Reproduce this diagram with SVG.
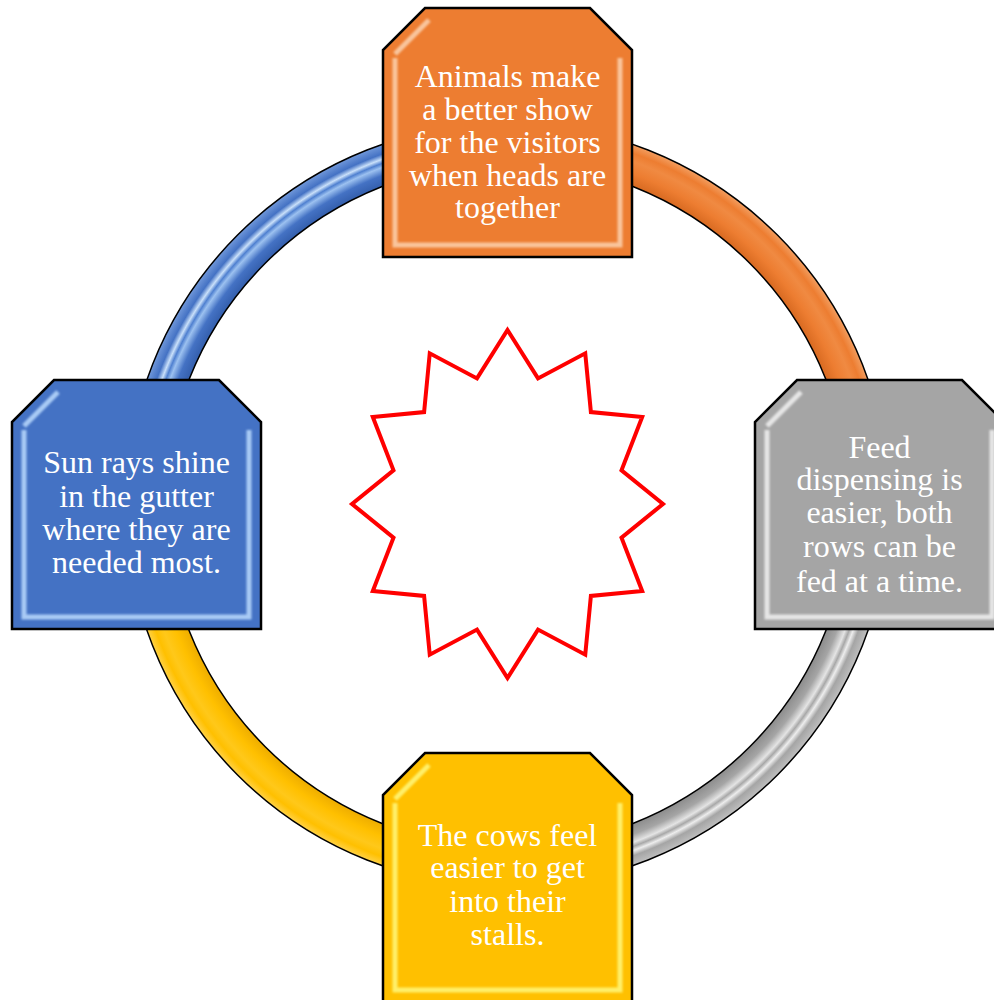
<svg xmlns="http://www.w3.org/2000/svg" width="994" height="1000" viewBox="0 0 994 1000">
<style>
.ol{fill:none;stroke:#000;stroke-width:41}
.ring{fill:none;stroke-width:38}
.node{stroke:#000;stroke-width:2.5}
.bev{fill:none;stroke-width:5;filter:url(#soft)}
.t{font-family:"Liberation Serif","Times New Roman",serif;font-size:32px;fill:#fff;text-anchor:middle}
</style>
<defs>
<filter id="soft" x="-10%" y="-10%" width="120%" height="120%"><feGaussianBlur stdDeviation="1.3"/></filter>
<path id="shape" d="M42,0 H207 L249,42 V249 H0 V42 Z"/>
<path id="inner" d="M12,46 L46,12 M237,50 V237 H12 V50"/>
<radialGradient id="gB" gradientUnits="userSpaceOnUse" cx="507.5" cy="505" r="381">
<stop offset="0.90" stop-color="#3560AE"/><stop offset="0.925" stop-color="#4472C4"/><stop offset="0.945" stop-color="#9CC1F0"/><stop offset="0.955" stop-color="#4F80D0"/><stop offset="0.965" stop-color="#C9E0FA"/><stop offset="0.978" stop-color="#4472C4"/><stop offset="1" stop-color="#6D95D8"/>
</radialGradient>
<radialGradient id="gO" gradientUnits="userSpaceOnUse" cx="507.5" cy="505" r="381">
<stop offset="0.90" stop-color="#D96B22"/><stop offset="0.93" stop-color="#ED7D31"/><stop offset="0.96" stop-color="#F08A42"/><stop offset="0.98" stop-color="#ED7D31"/><stop offset="1" stop-color="#F29B5C"/>
</radialGradient>
<radialGradient id="gG" gradientUnits="userSpaceOnUse" cx="507.5" cy="505" r="381">
<stop offset="0.90" stop-color="#8E8E8E"/><stop offset="0.925" stop-color="#A5A5A5"/><stop offset="0.945" stop-color="#E4E4E4"/><stop offset="0.955" stop-color="#A8A8A8"/><stop offset="0.965" stop-color="#EDEDED"/><stop offset="0.978" stop-color="#A5A5A5"/><stop offset="1" stop-color="#BDBDBD"/>
</radialGradient>
<radialGradient id="gY" gradientUnits="userSpaceOnUse" cx="507.5" cy="505" r="381">
<stop offset="0.90" stop-color="#EFAE00"/><stop offset="0.93" stop-color="#FFC000"/><stop offset="0.96" stop-color="#FFC81A"/><stop offset="0.98" stop-color="#FFC000"/><stop offset="1" stop-color="#FFD040"/>
</radialGradient>
</defs>
<g id="connectors">
<path class="ol" d="M507.5,143 A362,362 0 0 1 869.5,505 A362,362 0 0 1 507.5,867 A362,362 0 0 1 145.5,505 A362,362 0 0 1 507.5,143"/>
<path class="ring" stroke="url(#gO)" d="M507.5,143 A362,362 0 0 1 869.5,505"/>
<path class="ring" stroke="url(#gG)" d="M869.5,505 A362,362 0 0 1 507.5,867"/>
<path class="ring" stroke="url(#gY)" d="M507.5,867 A362,362 0 0 1 145.5,505"/>
<path class="ring" stroke="url(#gB)" d="M145.5,505 A362,362 0 0 1 507.5,143"/>
</g>
<g id="star">
<polygon points="507.5,330 538,378.4 585.25,353.3 590.9,412.1 642.2,417 621.5,470.4 663,504 621.5,537.6 642.2,591 590.9,595.9 585.25,654.7 538,629.6 507.5,678 477,629.6 429.75,654.7 424.1,595.9 372.8,591 393.5,537.6 352,504 393.5,470.4 372.8,417 424.1,412.1 429.75,353.3 477,378.4" fill="#fff" stroke="#FF0000" stroke-width="4" stroke-linejoin="miter"/>
</g>
<g id="node-top" transform="translate(383,8)">
<use href="#shape" class="node" fill="#ED7D31"/>
<use href="#inner" class="bev" stroke="#F9C59C"/>
<text class="t" x="124.5" y="79">Animals make</text>
<text class="t" x="124.5" y="112">a better show</text>
<text class="t" x="124.5" y="145">for the visitors</text>
<text class="t" x="124.5" y="178">when heads are</text>
<text class="t" x="124.5" y="210">together</text>
</g>
<g id="node-right" transform="translate(755,380)">
<use href="#shape" class="node" fill="#A5A5A5"/>
<use href="#inner" class="bev" stroke="#E6E6E6"/>
<text class="t" x="124.5" y="78">Feed</text>
<text class="t" x="124.5" y="110">dispensing is</text>
<text class="t" x="124.5" y="143">easier, both</text>
<text class="t" x="124.5" y="177">rows can be</text>
<text class="t" x="124.5" y="212">fed at a time.</text>
</g>
<g id="node-bottom" transform="translate(383,753)">
<use href="#shape" class="node" fill="#FFC000"/>
<use href="#inner" class="bev" stroke="#FFF06A"/>
<text class="t" x="124.5" y="93">The cows feel</text>
<text class="t" x="124.5" y="125">easier to get</text>
<text class="t" x="124.5" y="159">into their</text>
<text class="t" x="124.5" y="192">stalls.</text>
</g>
<g id="node-left" transform="translate(12,380)">
<use href="#shape" class="node" fill="#4472C4"/>
<use href="#inner" class="bev" stroke="#A9CBF5"/>
<text class="t" x="124.5" y="93">Sun rays shine</text>
<text class="t" x="124.5" y="127">in the gutter</text>
<text class="t" x="124.5" y="160">where they are</text>
<text class="t" x="124.5" y="193">needed most.</text>
</g>
</svg>
